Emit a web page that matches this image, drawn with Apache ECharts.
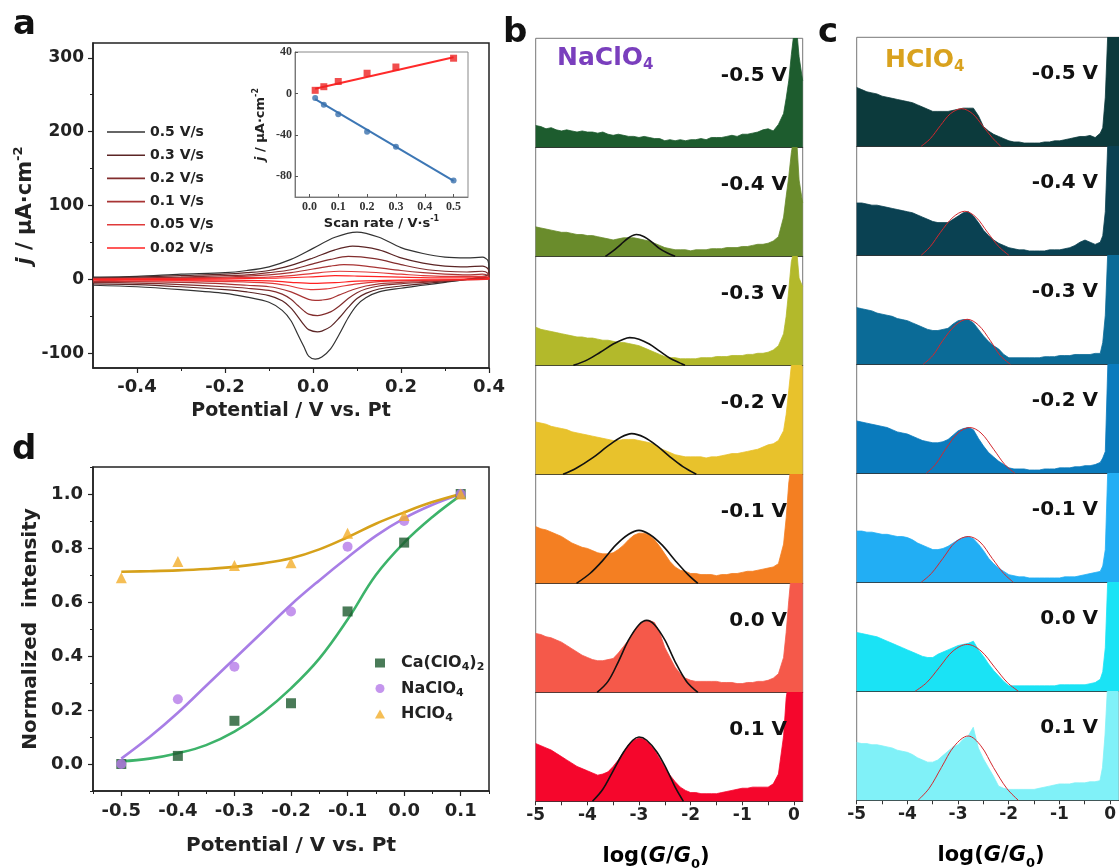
<!DOCTYPE html>
<html>
<head>
<meta charset="utf-8">
<script src="https://cdn.jsdelivr.net/npm/echarts@6/dist/echarts.min.js"></script>
<style>
html, body { margin: 0; padding: 0; background: #fff; }
#chart { width: 1119px; height: 868px; }
</style>
</head>
<body>
<div id="chart"></div>
<script>
// ---- panel a: cyclic voltammograms ----
const scanRates = ['0.5 V/s', '0.3 V/s', '0.2 V/s', '0.1 V/s', '0.05 V/s', '0.02 V/s'];
const cv05 = [[-0.5,3],[-0.4,4],[-0.3,7],[-0.2,9],[-0.15,12],[-0.1,17],[-0.05,27],[0,42],[0.05,57],[0.1,64],[0.15,57],[0.2,43],[0.25,35],[0.3,30],[0.35,29],[0.385,30],[0.398,25],
  [0.4,8],[0.38,3],[0.35,0],[0.3,-4],[0.25,-8],[0.2,-12],[0.15,-17],[0.12,-25],[0.1,-35],[0.08,-52],[0.06,-74],[0.04,-94],[0.02,-105],[0.005,-108],[-0.01,-104],[-0.02,-92],[-0.035,-74],[-0.05,-56],[-0.07,-42],[-0.1,-31],[-0.15,-24],[-0.2,-19],[-0.3,-14],[-0.4,-10],[-0.5,-8]];
const cv03 = [[-0.5,2],[-0.4,3],[-0.3,5],[-0.2,7],[-0.15,9],[-0.1,12],[-0.05,19],[0,29],[0.05,40],[0.09,45],[0.15,40],[0.2,29],[0.25,22],[0.3,18],[0.35,17],[0.385,18],[0.398,14],
  [0.4,4],[0.38,2],[0.35,0],[0.3,-3],[0.25,-6],[0.2,-9],[0.15,-13],[0.12,-19],[0.1,-26],[0.08,-38],[0.06,-52],[0.04,-64],[0.02,-70],[0.01,-71],[-0.01,-68],[-0.02,-62],[-0.035,-50],[-0.05,-39],[-0.07,-29],[-0.1,-22],[-0.15,-17],[-0.2,-14],[-0.3,-10],[-0.4,-7],[-0.5,-6]];
const cv02 = [[-0.5,1],[-0.4,2],[-0.3,3],[-0.2,5],[-0.15,6],[-0.1,9],[-0.05,13],[0,21],[0.04,27],[0.08,31],[0.14,28],[0.2,20],[0.25,14],[0.3,11],[0.35,10],[0.385,11],[0.398,8],
  [0.4,3],[0.38,1],[0.35,0],[0.3,-2],[0.25,-4],[0.2,-6],[0.15,-9],[0.12,-13],[0.1,-18],[0.08,-26],[0.06,-36],[0.04,-44],[0.02,-48],[0.01,-49],[-0.01,-47],[-0.02,-43],[-0.035,-35],[-0.05,-27],[-0.07,-20],[-0.1,-15],[-0.15,-12],[-0.2,-10],[-0.3,-7],[-0.4,-5],[-0.5,-4]];
const cv01 = [[-0.5,1],[-0.4,1],[-0.3,2],[-0.2,3],[-0.1,6],[-0.05,9],[0,14],[0.04,18],[0.07,20],[0.12,18],[0.2,12],[0.25,9],[0.3,7],[0.35,6],[0.385,7],[0.398,5],
  [0.4,1],[0.35,0],[0.3,-1],[0.25,-3],[0.2,-4],[0.15,-6],[0.12,-9],[0.09,-14],[0.06,-21],[0.04,-26],[0.02,-28],[0.005,-28.5],[-0.01,-27],[-0.03,-22],[-0.05,-17],[-0.08,-12],[-0.1,-10],[-0.15,-8],[-0.2,-6],[-0.3,-4],[-0.4,-3],[-0.5,-3]];
const cv005 = [[-0.5,0],[-0.4,1],[-0.3,1],[-0.2,2],[-0.1,3],[-0.05,5],[0,8],[0.03,10],[0.06,11],[0.12,10],[0.2,7],[0.25,5],[0.3,4],[0.35,4],[0.39,4],[0.4,2],
  [0.4,0],[0.3,-1],[0.2,-2],[0.15,-3],[0.1,-6],[0.06,-10],[0.03,-13],[0,-14],[-0.03,-12],[-0.06,-8],[-0.1,-5],[-0.2,-3],[-0.3,-2],[-0.4,-2],[-0.5,-1]];
const cv002 = [[-0.5,0],[-0.3,0.5],[-0.1,1.5],[0,3.5],[0.05,5],[0.1,4.5],[0.2,3],[0.3,2],[0.39,2],[0.4,1],
  [0.4,0],[0.3,-0.5],[0.2,-1],[0.1,-2.5],[0.05,-4.5],[0,-5.5],[-0.05,-4],[-0.1,-2],[-0.2,-1],[-0.3,-1],[-0.5,-0.5]];
const cvColors = ['#333333', '#5b2525', '#822d2d', '#a83434', '#df3a3a', '#ff2222'];
const cvXLabels = [-0.4, -0.2, 0, 0.2, 0.4];
const cvXMinor = [-0.3, -0.1, 0.1, 0.3];
const cvYLabels = [-100, 0, 100, 200, 300];
const cvYMinor = [-50, 50, 150, 250];

// inset: peak current vs scan rate
const insetRate = [0.02, 0.05, 0.1, 0.2, 0.3, 0.5];
const insetAnodic = [3, 6.5, 11.5, 19.5, 25.5, 34];
const insetCathodic = [-4.5, -11, -20, -37, -51.5, -84];
const insetAnodicFit = [[0.02, 4.5], [0.5, 35]];
const insetCathodicFit = [[0.02, -5.5], [0.5, -84.5]];
const insetXLabels = [0, 0.1, 0.2, 0.3, 0.4, 0.5];
const insetYLabels = [-80, -40, 0, 40];

// ---- panel d: normalized intensity ----
const potentials = [-0.5, -0.4, -0.3, -0.2, -0.1, 0.0, 0.1];
const caIntensity = [0.0, 0.03, 0.16, 0.225, 0.565, 0.82, 1.0];
const naIntensity = [0.0, 0.24, 0.36, 0.565, 0.805, 0.9, 1.0];
const hIntensity = [0.69, 0.75, 0.735, 0.745, 0.855, 0.92, 1.0];
const fitPotentials = [-0.5, -0.45, -0.4, -0.35, -0.3, -0.25, -0.2, -0.15, -0.1, -0.05, 0, 0.05, 0.1];
const caFit = [0.01, 0.02, 0.04, 0.07, 0.12, 0.19, 0.28, 0.39, 0.535, 0.7, 0.82, 0.915, 0.995];
const naFit = [0.02, 0.1, 0.19, 0.29, 0.39, 0.49, 0.59, 0.68, 0.765, 0.845, 0.91, 0.96, 1.0];
const hFit = [0.712, 0.714, 0.717, 0.722, 0.73, 0.743, 0.762, 0.795, 0.84, 0.89, 0.932, 0.97, 1.0];
const dXLabels = [-0.5, -0.4, -0.3, -0.2, -0.1, 0, 0.1];
const dXMinor = [-0.55, -0.45, -0.35, -0.25, -0.15, -0.05, 0.05, 0.15];
const dYLabels = [0, 0.2, 0.4, 0.6, 0.8, 1.0];
const dYMinor = [-0.1, 0.1, 0.3, 0.5, 0.7, 0.9, 1.1];

// ---- panels b, c: conductance histograms (percent of strip height) ----
const stripLabels = ['-0.5 V', '-0.4 V', '-0.3 V', '-0.2 V', '-0.1 V', '0.0 V', '0.1 V'];
const logG = [-5.0,-4.9,-4.8,-4.7,-4.6,-4.5,-4.4,-4.3,-4.2,-4.1,
  -4.0,-3.9,-3.8,-3.7,-3.6,-3.5,-3.4,-3.3,-3.2,-3.1,
  -3.0,-2.9,-2.8,-2.7,-2.6,-2.5,-2.4,-2.3,-2.2,-2.1,
  -2.0,-1.9,-1.8,-1.7,-1.6,-1.5,-1.4,-1.3,-1.2,-1.1,
  -1.0,-0.9,-0.8,-0.7,-0.6,-0.5,-0.4,-0.3,-0.2,
  -0.15,-0.1,-0.05,0,0.05,0.1,0.17];
const logTicks = [-5, -4.5, -4, -3.5, -3, -2.5, -2, -1.5, -1, -0.5, 0];
const logLabels = [-5, -4, -3, -2, -1, 0];

const naHist = [
  [20,19,17,18,16,15,16,15,14,15, 14,14,13,14,12,11,12,11,10,10, 9,10,9,8,8,6,7,6,7,6, 7,7,8,7,9,9,9,10,11,10, 12,12,13,14,16,17,15,21,31, 45,61,85,105,110,83,61],
  [27,26,25,24,23,22,22,21,20,20, 19,19,18,17,16,15,16,17,17,17, 16,15,14,12,10,8,7,6,6,6, 5,6,6,6,7,7,7,8,8,8, 9,9,10,11,11,12,14,18,36, 55,73,95,110,110,70,49],
  [35,33,32,31,30,29,28,27,26,26, 25,25,24,23,23,22,21,21,20,19, 18,16,14,12,10,8,7,7,6,6, 6,6,7,7,7,8,8,8,9,9, 9,10,10,11,11,12,14,18,29, 45,69,95,105,108,80,72],
  [48,47,46,44,43,42,41,39,38,37, 36,35,34,33,32,31,31,32,32,32, 31,30,29,27,24,22,20,18,17,16, 16,16,16,15,16,16,17,18,19,19, 20,21,22,23,25,27,28,31,40, 55,77,100,108,110,105,98],
  [52,50,49,47,45,43,40,37,35,33, 32,30,28,27,27,28,31,35,40,44, 46,46,44,40,34,27,20,15,12,11, 9,9,8,8,8,7,8,8,9,9, 10,11,11,12,13,14,15,18,36, 60,92,110,110,110,108,105],
  [54,53,51,50,48,46,43,40,37,34, 32,30,29,29,30,31,36,42,48,56, 62,65,66,64,55,41,32,23,17,13, 11,10,10,10,10,10,9,9,9,8, 8,9,9,10,10,11,13,17,32, 55,84,110,110,110,105,100],
  [53,51,49,47,44,41,38,35,32,30, 28,26,24,25,27,32,38,45,52,56, 58,57,53,47,39,31,24,18,13,10, 8,8,7,7,7,7,8,9,10,11, 12,12,13,13,13,13,16,25,60, 95,110,110,110,110,108,105]
];
const naFits = [
  null,
  [[-3.65,0],[-3.5,5],[-3.35,11],[-3.2,17],[-3.05,20],[-2.9,18],[-2.75,13],[-2.6,7],[-2.45,3],[-2.3,0]],
  [[-4.27,0],[-4.0,5],[-3.75,12],[-3.5,19.5],[-3.3,24],[-3.18,25.4],[-3.0,24],[-2.8,19.5],[-2.6,13],[-2.4,6.5],[-2.2,2],[-2.11,0]],
  [[-4.47,0],[-4.2,6],[-3.9,15],[-3.6,26],[-3.35,34],[-3.14,37.3],[-2.9,34],[-2.65,26],[-2.4,16],[-2.15,7],[-1.89,0]],
  [[-4.21,0],[-3.95,9],[-3.7,21],[-3.45,35],[-3.2,45],[-3.0,48.6],[-2.8,45],[-2.55,35],[-2.3,21],[-2.05,8],[-1.86,0]],
  [[-3.81,0],[-3.6,10],[-3.4,28],[-3.2,48],[-3.0,62],[-2.85,66],[-2.7,62],[-2.5,48],[-2.3,28],[-2.08,10],[-1.86,0]],
  [[-3.9,0],[-3.7,11],[-3.5,28],[-3.3,45],[-3.12,56],[-3.0,59],[-2.85,56],[-2.65,45],[-2.45,28],[-2.3,13],[-2.14,0]]
];
const naColors = ['#1d5c2e', '#6a8c2c', '#b3b92b', '#e8c22c', '#f47f22', '#f5594a', '#f5062c'];

const hHist = [
  [54,52,50,49,48,46,45,44,43,42, 41,40,38,36,34,32,32,32,32,33, 34,35,35,35,28,18,14,11,9,7, 5,4,4,3,3,3,3,4,4,5, 5,6,7,8,9,9,10,8,12, 17,45,105,110,110,110,110],
  [48,48,47,46,46,45,44,43,42,41, 40,39,37,35,33,31,30,30,30,33, 36,39,40,36,30,23,18,14,11,9, 7,6,5,5,4,4,4,4,5,5, 5,6,7,9,12,14,12,10,12, 18,40,105,110,110,110,110],
  [52,51,50,49,47,46,45,44,42,41, 40,38,36,34,32,31,31,32,33,37, 40,41,41,38,32,26,21,17,14,9, 6,6,6,6,6,6,6,7,7,7, 8,8,8,9,9,9,9,10,10, 20,45,105,110,110,110,110],
  [48,47,46,45,44,43,42,40,38,37, 36,34,32,30,29,28,28,29,31,35, 39,41,42,40,32,25,19,15,11,8, 5,4,4,4,3,3,3,4,4,4, 5,5,5,6,6,7,7,8,10, 14,20,100,110,110,110,110],
  [47,47,46,46,45,44,44,43,42,42, 41,39,36,34,32,30,30,31,33,36, 39,41,42,40,35,29,22,17,13,10, 7,6,5,5,4,4,4,4,4,4, 4,5,5,5,6,7,8,9,10, 15,30,105,110,110,110,110],
  [54,53,52,51,50,48,46,44,42,40, 38,36,34,32,31,31,34,36,38,40, 42,43,44,46,38,32,25,19,14,9, 5,5,5,5,5,5,5,5,5,5, 6,6,6,6,6,6,7,8,11, 18,40,105,110,110,110,110],
  [53,52,52,51,51,50,49,48,46,45, 44,42,39,37,35,35,37,41,45,49, 51,56,59,67,48,38,30,22,13,11, 10,10,10,10,10,10,11,12,13,14, 15,15,15,16,16,16,17,17,18, 30,60,105,110,110,110,110]
];
const hFits = [
  [[-3.73,0],[-3.55,7],[-3.35,19],[-3.15,30],[-2.93,34.5],[-2.72,30],[-2.52,19],[-2.33,8],[-2.16,0]],
  [[-3.73,0],[-3.55,8],[-3.35,21],[-3.1,35],[-2.87,40.4],[-2.65,35],[-2.42,21],[-2.2,8],[-2.0,0]],
  [[-3.69,0],[-3.5,8],[-3.3,22],[-3.05,36],[-2.82,41.3],[-2.6,36],[-2.37,22],[-2.17,8],[-1.97,0]],
  [[-3.63,0],[-3.45,8],[-3.25,22],[-3.0,37],[-2.77,42],[-2.55,37],[-2.3,22],[-2.08,8],[-1.88,0]],
  [[-3.73,0],[-3.53,8],[-3.3,22],[-3.05,37],[-2.8,42],[-2.57,37],[-2.33,22],[-2.1,8],[-1.91,0]],
  [[-3.85,0],[-3.62,8],[-3.37,22],[-3.1,37],[-2.82,43],[-2.55,37],[-2.28,22],[-2.03,8],[-1.81,0]],
  [[-3.79,0],[-3.57,11],[-3.33,30],[-3.07,50],[-2.8,59],[-2.55,50],[-2.3,30],[-2.04,11],[-1.81,0]]
];
const hColors = ['#0c3a3c', '#0a4152', '#0b6b97', '#0a7bbd', '#22aef4', '#1ae3f5', '#80f1f8'];

// ---------------------------------------------------------------
const sans = '"DejaVu Sans", "Liberation Sans", Arial, sans-serif';
const serif = '"Liberation Serif", "DejaVu Serif", serif';
const ink = '#222';

const chart = echarts.init(document.getElementById('chart'));

function richName(size) {
  return {
    n: { fontFamily: sans, fontWeight: 'bold', fontSize: size, lineHeight: size * 1.3, color: ink },
    i: { fontFamily: sans, fontWeight: 'bold', fontStyle: 'italic', fontSize: size, lineHeight: size * 1.3, color: ink },
    s: { fontFamily: sans, fontWeight: 'bold', fontSize: Math.round(size * 0.62), lineHeight: Math.round(size * 0.62), verticalAlign: 'top', color: ink },
    b: { fontFamily: sans, fontWeight: 'bold', fontSize: Math.round(size * 0.62), lineHeight: Math.round(size * 0.62), verticalAlign: 'bottom', color: ink }
  };
}

function fixed1(v) { return v.toFixed(1); }

function mainAxis(gridIndex, min, max, labels, fontSize, margin, formatter, extra) {
  return Object.assign({
    type: 'value', gridIndex, min, max,
    axisLine: { onZero: false, lineStyle: { color: ink, width: 1.5 } },
    axisTick: { customValues: labels, length: 5, lineStyle: { color: ink, width: 1.2 } },
    axisLabel: { customValues: labels, margin, fontFamily: sans, fontWeight: 'bold', fontSize, color: ink, formatter },
    splitLine: { show: false }
  }, extra || {});
}

function minorAxis(gridIndex, min, max, ticks, position) {
  return {
    type: 'value', gridIndex, min, max, position,
    axisLine: { show: false, onZero: false },
    axisTick: { customValues: ticks, length: 3, lineStyle: { color: ink, width: 1 } },
    axisLabel: { show: false },
    splitLine: { show: false }
  };
}

const stripTop = 38.3, stripH = 109;
const grids = [
  { left: 93, top: 43, width: 396, height: 325, show: true, borderColor: ink, borderWidth: 1.5 },
  { left: 295, top: 52, width: 173, height: 145, show: true, borderColor: '#888', borderWidth: 1, backgroundColor: '#fff' },
  { left: 93, top: 467, width: 396, height: 324, show: true, borderColor: ink, borderWidth: 1.5 }
];
for (let i = 0; i < 7; i++) {
  grids.push({ left: 535.7, top: stripTop + i * stripH, width: 267, height: stripH, show: true, borderColor: '#777', borderWidth: 1 });
}
for (let i = 0; i < 7; i++) {
  grids.push({ left: 856.7, top: stripTop - 1 + i * stripH, width: 270.4, height: stripH, show: true, borderColor: '#777', borderWidth: 1 });
}

const xAxes = [
  mainAxis(0, -0.5, 0.4, cvXLabels, 18, 10, fixed1, {
    name: 'Potential / V vs. Pt', nameLocation: 'middle', nameGap: 34,
    nameTextStyle: { fontFamily: sans, fontWeight: 'bold', fontSize: 19, color: ink }
  }),
  minorAxis(0, -0.5, 0.4, cvXMinor, 'bottom'),
  {
    type: 'value', gridIndex: 1, min: -0.05, max: 0.55,
    axisLine: { onZero: false, lineStyle: { color: '#777', width: 1 } },
    axisTick: { customValues: insetXLabels, length: 3, inside: true, lineStyle: { color: '#555' } },
    axisLabel: { customValues: insetXLabels, margin: 4, fontFamily: serif, fontWeight: 'bold', fontSize: 12, color: '#333', formatter: fixed1 },
    splitLine: { show: false },
    name: '{n|Scan rate / V·s}{s|-1}', nameLocation: 'middle', nameGap: 18,
    nameTextStyle: { rich: richName(13) }
  },
  mainAxis(2, -0.55, 0.15, dXLabels, 18, 11, fixed1, {
    name: 'Potential / V vs. Pt', nameLocation: 'middle', nameGap: 45,
    nameTextStyle: { fontFamily: sans, fontWeight: 'bold', fontSize: 20, color: ink }
  }),
  minorAxis(2, -0.55, 0.15, dXMinor, 'bottom')
];
const yAxes = [
  mainAxis(0, -120, 320, cvYLabels, 17, 9, v => String(v), {
    name: '{i|j}{n| / μA·cm}{s|-2}', nameLocation: 'middle', nameGap: 54,
    nameTextStyle: { rich: richName(21) }
  }),
  minorAxis(0, -120, 320, cvYMinor, 'left'),
  {
    type: 'value', gridIndex: 1, min: -100, max: 40,
    axisLine: { onZero: false, lineStyle: { color: '#777', width: 1 } },
    axisTick: { customValues: insetYLabels, length: 3, inside: true, lineStyle: { color: '#555' } },
    axisLabel: { customValues: insetYLabels, margin: 3, fontFamily: serif, fontWeight: 'bold', fontSize: 12, color: '#333' },
    splitLine: { show: false },
    name: '{i|j}{n| / μA·cm}{s|-2}', nameLocation: 'middle', nameGap: 26,
    nameTextStyle: { rich: richName(13) }
  },
  mainAxis(2, -0.1, 1.1, dYLabels, 18, 10, fixed1, {
    name: 'Normalized  intensity', nameLocation: 'middle', nameGap: 52,
    nameTextStyle: { fontFamily: sans, fontWeight: 'bold', fontSize: 20, color: ink }
  }),
  minorAxis(2, -0.1, 1.1, dYMinor, 'left')
];

function stripAxes(gridIndex, isBottom) {
  xAxes.push({
    type: 'value', gridIndex, min: -5, max: 0.17,
    axisLine: { onZero: false, lineStyle: { color: '#333', width: 1 } },
    axisTick: { show: isBottom, customValues: logTicks, length: 4, lineStyle: { color: '#333' } },
    axisLabel: { show: isBottom, customValues: logLabels, margin: 6, fontFamily: sans, fontWeight: 'bold', fontSize: 17, color: ink },
    splitLine: { show: false }
  });
  yAxes.push({ type: 'value', gridIndex, min: 0, max: 100, show: false, splitLine: { show: false } });
}
for (let i = 0; i < 14; i++) stripAxes(3 + i, i === 6 || i === 13);

const series = [];
const cvData = [cv05, cv03, cv02, cv01, cv005, cv002];
cvData.forEach((d, k) => {
  series.push({
    name: scanRates[k], type: 'line', xAxisIndex: 0, yAxisIndex: 0, data: d,
    symbol: 'none', smooth: 0.3, lineStyle: { color: cvColors[k], width: 1.2 }, itemStyle: { color: cvColors[k] }, z: 2 + k
  });
});
series.push(
  { type: 'line', xAxisIndex: 2, yAxisIndex: 2, data: insetAnodicFit, symbol: 'none', lineStyle: { color: '#ff2a2a', width: 2 }, z: 20 },
  { type: 'line', xAxisIndex: 2, yAxisIndex: 2, data: insetCathodicFit, symbol: 'none', lineStyle: { color: '#3d77b5', width: 2 }, z: 20 },
  { type: 'scatter', xAxisIndex: 2, yAxisIndex: 2, data: insetRate.map((r, i) => [r, insetAnodic[i]]), symbol: 'rect', symbolSize: 7, itemStyle: { color: '#ee2222' }, z: 21 },
  { type: 'scatter', xAxisIndex: 2, yAxisIndex: 2, data: insetRate.map((r, i) => [r, insetCathodic[i]]), symbol: 'circle', symbolSize: 6, itemStyle: { color: '#3a70ad' }, z: 21 }
);

const dSets = [
  { name: 'Ca(ClO4)2', vals: caIntensity, fit: caFit, symbol: 'rect', size: 10, mark: '#1d5a2e', line: '#3db36a' },
  { name: 'NaClO4', vals: naIntensity, fit: naFit, symbol: 'circle', size: 10, mark: '#b57ae8', line: '#a87ee6' },
  { name: 'HClO4', vals: hIntensity, fit: hFit, symbol: 'triangle', size: 11, mark: '#f2ae2a', line: '#d6a11a' }
];
dSets.forEach(s => {
  series.push({
    type: 'line', xAxisIndex: 3, yAxisIndex: 3, data: fitPotentials.map((p, i) => [p, s.fit[i]]),
    symbol: 'none', smooth: 0.4, lineStyle: { color: s.line, width: 2.6 }, z: 3
  });
});
dSets.forEach(s => {
  series.push({
    name: s.name, type: 'scatter', xAxisIndex: 3, yAxisIndex: 3, data: potentials.map((p, i) => [p, s.vals[i]]),
    symbol: s.symbol, symbolSize: s.size, itemStyle: { color: s.mark }, z: 4
  });
});

function addStrip(axisIndex, hist, fit, color, fitColor, fitWidth) {
  series.push({
    type: 'line', xAxisIndex: axisIndex, yAxisIndex: axisIndex, data: logG.map((x, i) => [x, hist[i]]),
    symbol: 'none', lineStyle: { color, width: 0.8 }, areaStyle: { color, opacity: 1 }, z: 2
  });
  if (fit) {
    series.push({
      type: 'line', xAxisIndex: axisIndex, yAxisIndex: axisIndex, data: fit,
      symbol: 'none', smooth: 0.35, lineStyle: { color: fitColor, width: fitWidth }, z: 3
    });
  }
}
for (let i = 0; i < 7; i++) addStrip(5 + i, naHist[i], naFits[i], naColors[i], '#111', 1.6);
for (let i = 0; i < 7; i++) addStrip(12 + i, hHist[i], hFits[i], hColors[i], '#d2282e', 1);

const letterFont = 'bold 34px ' + sans;
const graphics = [
  { type: 'text', style: { text: 'a', x: 13, y: 25, font: letterFont, fill: '#111', verticalAlign: 'middle' } },
  { type: 'text', style: { text: 'd', x: 12, y: 450, font: letterFont, fill: '#111', verticalAlign: 'middle' } },
  { type: 'text', style: { text: 'b', x: 503, y: 33, font: letterFont, fill: '#111', verticalAlign: 'middle' } },
  { type: 'text', style: { text: 'c', x: 818, y: 33, font: letterFont, fill: '#111', verticalAlign: 'middle' } },
  { type: 'text', style: { text: '{n|NaClO}{b|4}', x: 557, y: 58, verticalAlign: 'middle',
      rich: { n: { fontFamily: sans, fontWeight: 'bold', fontSize: 25, lineHeight: 30, fill: '#7a3fbd' }, b: { fontFamily: sans, fontWeight: 'bold', fontSize: 15, lineHeight: 15, verticalAlign: 'bottom', fill: '#7a3fbd' } } } },
  { type: 'text', style: { text: '{n|HClO}{b|4}', x: 885, y: 60, verticalAlign: 'middle',
      rich: { n: { fontFamily: sans, fontWeight: 'bold', fontSize: 25, lineHeight: 30, fill: '#d9a21e' }, b: { fontFamily: sans, fontWeight: 'bold', fontSize: 15, lineHeight: 15, verticalAlign: 'bottom', fill: '#d9a21e' } } } },
  { type: 'text', style: { text: '{n|log(}{i|G}{n|/}{i|G}{b|0}{n|)}', x: 656, y: 857, align: 'center', verticalAlign: 'middle', rich: richName(21) } },
  { type: 'text', style: { text: '{n|log(}{i|G}{n|/}{i|G}{b|0}{n|)}', x: 991, y: 856, align: 'center', verticalAlign: 'middle', rich: richName(21) } }
];
stripLabels.forEach((t, i) => {
  graphics.push({ type: 'text', z: 50, style: { text: t, x: 787, y: stripTop + i * stripH + 37, align: 'right', verticalAlign: 'middle', font: 'bold 20px ' + sans, fill: '#111' } });
  graphics.push({ type: 'text', z: 50, style: { text: t, x: 1098, y: stripTop - 1 + i * stripH + 36, align: 'right', verticalAlign: 'middle', font: 'bold 20px ' + sans, fill: '#111' } });
});

const legendRich = {
  sp: { width: 11 },
  n: { fontFamily: sans, fontWeight: 'bold', fontSize: 16, lineHeight: 20, color: ink },
  s: { fontFamily: sans, fontWeight: 'bold', fontSize: 11, lineHeight: 11, verticalAlign: 'bottom', color: ink }
};
const legendText = {
  'Ca(ClO4)2': '{sp|}{n|Ca(ClO}{s|4}{n|)}{s|2}',
  'NaClO4': '{sp|}{n|NaClO}{s|4}',
  'HClO4': '{sp|}{n|HClO}{s|4}'
};

chart.setOption({
  animation: false,
  backgroundColor: '#fff',
  grid: grids,
  xAxis: xAxes,
  yAxis: yAxes,
  legend: [
    {
      data: scanRates, left: 102, top: 120, orient: 'vertical', icon: 'rect', itemWidth: 38, itemHeight: 1.6, itemGap: 9.2,
      textStyle: { fontFamily: sans, fontWeight: 'bold', fontSize: 14, lineHeight: 12, color: ink }
    },
    {
      data: dSets.map(s => s.name), left: 370, top: 650, orient: 'vertical', itemWidth: 10, itemHeight: 9, itemGap: 7.5,
      formatter: n => legendText[n], textStyle: { rich: legendRich }
    }
  ],
  series,
  graphic: graphics
});
</script>
